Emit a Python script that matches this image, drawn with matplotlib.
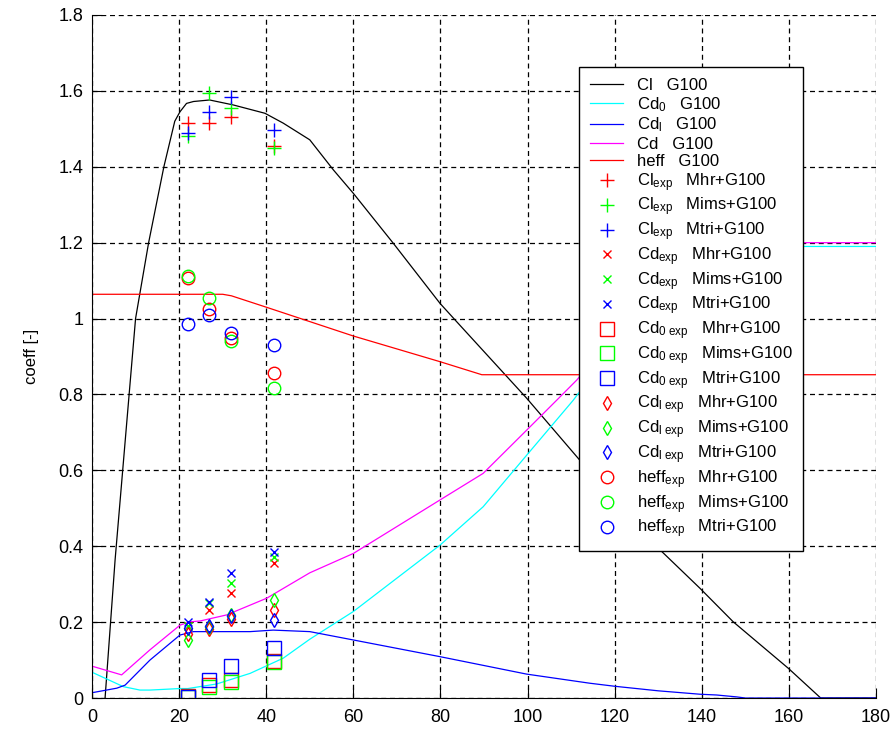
import matplotlib
matplotlib.use('Agg')
import matplotlib.pyplot as plt
from matplotlib.ticker import FormatStrFormatter

plt.rcParams['font.family'] = ['Liberation Sans', 'DejaVu Sans']
plt.rcParams['mathtext.fontset'] = 'custom'
plt.rcParams['mathtext.rm'] = 'Liberation Sans'
plt.rcParams['mathtext.it'] = 'Liberation Sans'

# model curves (G100)
cl_x = [3, 5.3, 10, 13, 16.5, 19, 20.2, 21.7, 23.3, 27, 32.4, 39.7, 43.9, 50, 55.4, 60, 69.2, 79.9, 83.7, 99.8, 111.3, 120, 130, 139.6, 147.2, 159.9, 167.3, 180]
cl_y = [0, 0.364, 1.0, 1.2, 1.4, 1.52, 1.545, 1.567, 1.572, 1.576, 1.563, 1.541, 1.515, 1.471, 1.392, 1.33, 1.198, 1.04, 0.992, 0.79, 0.636, 0.52, 0.395, 0.289, 0.201, 0.078, 0.0, 0.0]

cd0_x = [0, 7.2, 11, 13.3, 20.2, 22, 28.6, 36.3, 43.9, 50, 60, 79.9, 89.8, 99.8, 110.5, 120, 130, 140, 180]
cd0_y = [0.068, 0.030, 0.021, 0.021, 0.025, 0.025, 0.037, 0.065, 0.105, 0.155, 0.228, 0.403, 0.504, 0.64, 0.785, 0.93, 1.08, 1.19, 1.19]

cdl_x = [0, 5.7, 7.6, 13.3, 20.2, 23.3, 36.3, 41.6, 50, 60, 79.9, 99.8, 114.3, 120, 130, 139.6, 143.4, 148, 150, 180]
cdl_y = [0.014, 0.026, 0.034, 0.1, 0.166, 0.175, 0.175, 0.179, 0.175, 0.153, 0.109, 0.063, 0.039, 0.031, 0.019, 0.01, 0.008, 0.003, 0.0, 0.0]

cd_x = [0, 6.8, 13.3, 20.2, 22.5, 24.8, 30.9, 40.1, 50, 60, 79.9, 89.8, 99.8, 106.7, 111.3, 120, 130, 140, 180]
cd_y = [0.084, 0.061, 0.127, 0.192, 0.201, 0.203, 0.219, 0.263, 0.33, 0.381, 0.522, 0.592, 0.706, 0.785, 0.838, 0.96, 1.1, 1.2, 1.2]

heff_x = [0, 30, 32, 40, 50, 60, 80, 89.5, 180]
heff_y = [1.064, 1.064, 1.06, 1.03, 0.992, 0.954, 0.886, 0.852, 0.852]

# experiments
x_exp = [22, 26.8, 31.8, 41.8]
cl_mhr = [1.516, 1.516, 1.532, 1.455]
cl_mims = [1.482, 1.595, 1.555, 1.449]
cl_mtri = [1.488, 1.545, 1.583, 1.497]
cd_mhr = [0.19, 0.232, 0.276, 0.357]
cd_mims = [0.19, 0.25, 0.302, 0.371]
cd_mtri = [0.2, 0.252, 0.330, 0.385]
cd0_mhr = [0.005, 0.035, 0.047, 0.097]
cd0_mims = [0.004, 0.030, 0.043, 0.095]
cd0_mtri = [0.002, 0.047, 0.084, 0.131]
cdl_mhr = [0.170, 0.182, 0.207, 0.232]
cdl_mims = [0.153, 0.186, 0.219, 0.258]
cdl_mtri = [0.184, 0.19, 0.217, 0.206]
heff_mhr = [1.106, 1.024, 0.95, 0.856]
heff_mims = [1.112, 1.055, 0.941, 0.818]
heff_mtri = [0.986, 1.009, 0.963, 0.930]

R, G, B = '#ff0000', '#00ff00', '#0000ff'
cases = ['Mhr+G100', 'Mims+G100', 'Mtri+G100']

fig = plt.figure(figsize=(8.95, 7.31), dpi=100)
ax = fig.add_axes([0.1028, 0.0451, 0.876, 0.9344])

lw = 0.9
ax.plot(cl_x, cl_y, color='k', lw=lw, label='Cl   G100')
ax.plot(cd0_x, cd0_y, color='#00ffff', lw=lw, label=r'Cd$_0$   G100')
ax.plot(cdl_x, cdl_y, color=B, lw=lw, label=r'Cd$_{\rm l}$   G100')
ax.plot(cd_x, cd_y, color='#ff00ff', lw=lw, label='Cd   G100')
ax.plot(heff_x, heff_y, color=R, lw=lw, label='heff   G100')

groups = [
    ('+', 9.5, r'Cl$_{\rm exp}$   ', [cl_mhr, cl_mims, cl_mtri]),
    ('x', 5.5, r'Cd$_{\rm exp}$   ', [cd_mhr, cd_mims, cd_mtri]),
    ('s', 9.5, r'Cd$_{\rm 0\ exp}$   ', [cd0_mhr, cd0_mims, cd0_mtri]),
    ('d', 7.5, r'Cd$_{\rm l\ exp}$   ', [cdl_mhr, cdl_mims, cdl_mtri]),
    ('o', 9, r'heff$_{\rm exp}$   ', [heff_mhr, heff_mims, heff_mtri]),
]
for mk, ms, name, series in groups:
    for vals, col, case in zip(series, [R, G, B], cases):
        ax.plot(x_exp, vals, linestyle='none', marker=mk, ms=ms, mew=1.0,
                mec=col, mfc='none', label=name + case)

ax.set_xlim(0, 180)
ax.set_ylim(0, 1.8)
ax.set_xticks(range(0, 181, 20))
ax.set_yticks([i * 0.2 for i in range(10)])
ax.yaxis.set_major_formatter(FormatStrFormatter('%g'))
ax.grid(True, color='k', linestyle=(0, (4, 3)), linewidth=0.9)
ax.spines['top'].set_visible(False)
ax.spines['right'].set_visible(False)
ax.tick_params(direction='in', length=7, labelsize=13)
ax.tick_params(axis='x', pad=8)
ax.tick_params(axis='y', pad=6)
ax.set_ylabel('coeff [-]', fontsize=12, labelpad=14)

leg = ax.legend(loc='upper right', bbox_to_anchor=(0.907, 0.924), fontsize=12,
                frameon=True, fancybox=False, framealpha=1, edgecolor='k',
                handlelength=2.0, handletextpad=0.8, labelspacing=0.13,
                borderpad=0.65, borderaxespad=0)
leg.get_frame().set_linewidth(1.0)

fig.savefig('out.png', dpi=100)
